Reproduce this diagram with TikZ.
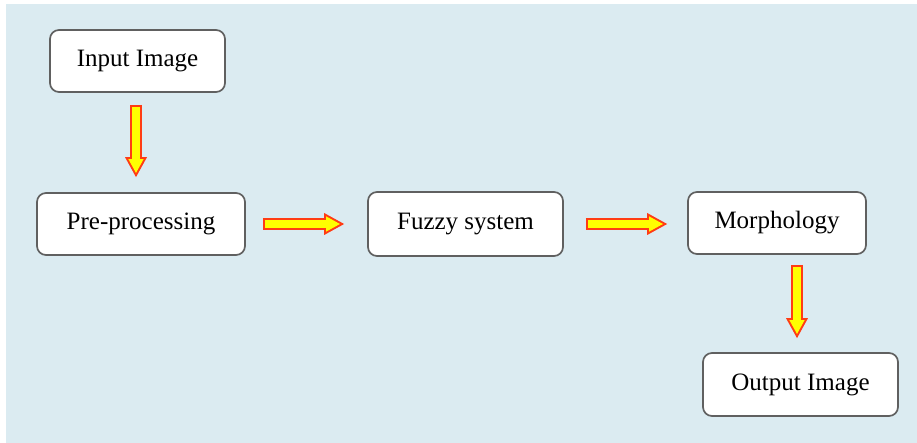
\documentclass[tikz,border=0pt]{standalone}
\usepackage{fontspec}
\setmainfont{Liberation Serif}
\usetikzlibrary{arrows.meta,positioning}
\definecolor{panel}{RGB}{219,235,241}
\definecolor{edge}{RGB}{96,96,96}
\definecolor{flowred}{RGB}{255,60,20}
\definecolor{flowyellow}{RGB}{255,255,0}

\tikzset{
  stage/.style={draw=edge, line width=1.7pt, fill=white, rounded corners=9pt, inner sep=0pt, font=\fontsize{25}{29}\selectfont},
  flowout/.style={draw=flowred, line width=12pt, -{Triangle[length=20pt,width=22pt,line width=0pt]}},
  flowin/.style={draw=flowyellow, line width=8pt, -{Triangle[length=13.8pt,width=15.2pt,line width=0pt]}},
}

\begin{document}
\begin{tikzpicture}[x=1pt, y=-1pt]
    \useasboundingbox (0,0) rectangle (917,443);
    \fill [panel] (6,4) rectangle (917,443);

    \node [stage, minimum width=175pt, minimum height=62pt] (inp) at (137.5,61) {Input Image};
    \node [stage, minimum width=208pt, minimum height=62pt] (pre) at (141,224) {Pre-processing};
    \node [stage, minimum width=195pt, minimum height=64pt] (fuz) at (465.5,224) {Fuzzy system};
    \node [stage, minimum width=178pt, minimum height=62pt] (mor) at (777,223) {Morphology};
    \node [stage, minimum width=195pt, minimum height=63pt] (out) at (800.5,384.5) {Output Image};

    \draw [flowout, shorten <=12pt, shorten >=15pt] ([xshift=-1.5pt]inp.south) -- ([xshift=-1.5pt]inp.south |- pre.north);
    \draw [flowin, shorten <=14pt, shorten >=19.2pt] ([xshift=-1.5pt]inp.south) -- ([xshift=-1.5pt]inp.south |- pre.north);

    \draw [flowout, shorten <=17pt, shorten >=23pt] (pre.east) -- (pre.east -| fuz.west);
    \draw [flowin, shorten <=19pt, shorten >=27.2pt] (pre.east) -- (pre.east -| fuz.west);

    \draw [flowout, shorten <=22pt, shorten >=20pt] (fuz.east) -- (fuz.east -| mor.west);
    \draw [flowin, shorten <=24pt, shorten >=24.2pt] (fuz.east) -- (fuz.east -| mor.west);

    \draw [flowout, shorten <=10pt, shorten >=14pt] ([xshift=-3.5pt]out.north |- mor.south) -- ([xshift=-3.5pt]out.north);
    \draw [flowin, shorten <=12pt, shorten >=18.2pt] ([xshift=-3.5pt]out.north |- mor.south) -- ([xshift=-3.5pt]out.north);
\end{tikzpicture}
\end{document}
